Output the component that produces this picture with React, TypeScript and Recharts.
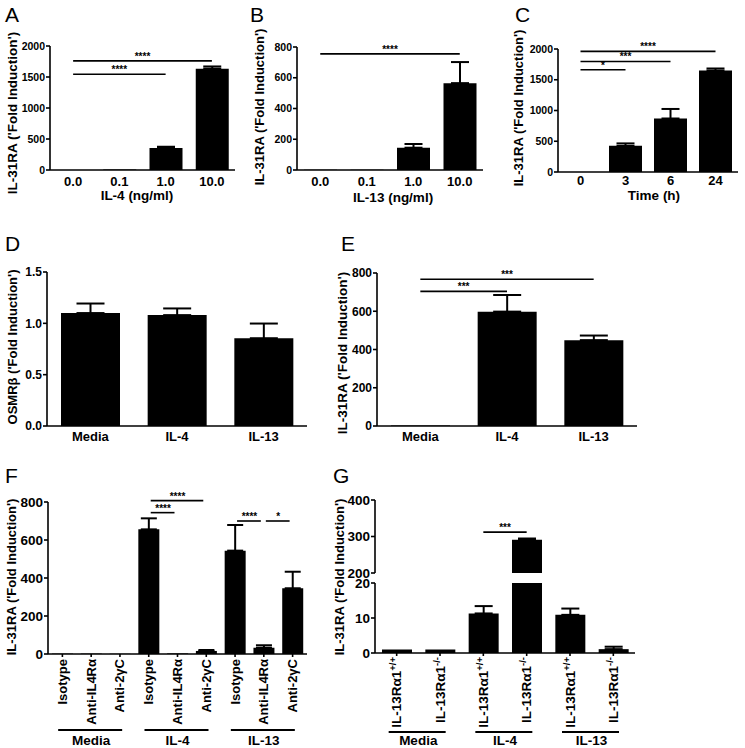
import React from 'react';
import { BarChart, Bar, XAxis, YAxis, ErrorBar, ReferenceLine } from 'recharts';

const FONT = '"Liberation Sans", Arial, Helvetica, sans-serif';

// A - IL-4 dose
const doseTicks = ['0.0', '0.1', '1.0', '10.0'];
const il4DoseFold = [1, 8, 355, 1635];
const il4DoseSem = [0, 0, 20, 35];
// B - IL-13 dose
const il13DoseFold = [1, 2, 145, 565];
const il13DoseSem = [0, 0, 24, 137];
// C - time course
const hourTicks = ['0', '3', '6', '24'];
const timeFold = [2, 425, 870, 1650];
const timeSem = [0, 40, 155, 33];
// D / E
const treatments = ['Media', 'IL-4', 'IL-13'];
const osmrFold = [1.1, 1.08, 0.855];
const osmrSem = [0.093, 0.065, 0.143];
const il31Fold = [2, 598, 449];
const il31Sem = [0, 87, 24];
// F - blocking antibodies
const antibodies = ['Isotype', 'Anti-IL4Rα', 'Anti-2γC'];
const abFold = [2, 2, 1, 656, 3, 16, 544, 33, 346];
const abSem = [0, 0, 0, 58, 0, 5, 135, 13, 87];
// G - IL-13Ra1 knockout
const genotypes = ['+/+', '-/-'];
const koFold = [1, 1, 11.3, 291, 10.9, 1.1];
const koSem = [0, 0, 2.1, 3.5, 1.8, 0.7];

type Sig = [string, string, number, string];
const sigA: Sig[] = [['0.0', '1.0', 1545, '****'], ['0.0', '10.0', 1760, '****']];
const sigB: Sig[] = [['0.0', '10.0', 755, '****']];
const sigC: Sig[] = [['0', '3', 1662, '*'], ['0', '6', 1797, '***'], ['0', '24', 1961, '****']];
const sigE: Sig[] = [['Media', 'IL-4', 704, '***'], ['Media', 'IL-13', 767, '***']];
const sigF: Sig[] = [
  ['IL-4|Isotype', 'IL-4|Anti-IL4Rα', 744, '****'],
  ['IL-4|Isotype', 'IL-4|Anti-2γC', 807, '****'],
  ['IL-13|Isotype', 'IL-13|Anti-IL4Rα', 700, '****'],
  ['IL-13|Anti-IL4Rα', 'IL-13|Anti-2γC', 700, '*'],
];
const sigG: Sig[] = [['IL-4|+/+', 'IL-4|-/-', 312, '***']];

const rows = (names: string[], fold: (number | null)[], sem: number[]) =>
  names.map((name, i) => ({ name, value: fold[i], err: sem[i] ? [0, sem[i]] : null }));

const abNames = treatments.flatMap((t) => antibodies.map((a) => `${t}|${a}`));
const koNames = treatments.flatMap((t) => genotypes.map((g) => `${t}|${g}`));

const axisStroke = { stroke: '#000', strokeWidth: 1.6 };

const InsetLine = (props: any) => (
  <line x1={props.x1 + 2} x2={props.x2 - 3} y1={props.y1} y2={props.y2} stroke="#000" strokeWidth={1.6} />
);

const sigLines = (sig: Sig[], inset = false) =>
  sig.map(([from, to, y, stars]) => (
    <ReferenceLine
      key={`${from}-${to}-${y}`}
      segment={[{ x: from, y }, { x: to, y }]}
      stroke="#000"
      strokeWidth={1.6}
      ifOverflow="visible"
      shape={inset ? InsetLine : undefined}
      label={{ value: stars, position: 'top', offset: 1, fontSize: 10, fontWeight: 'bold', fill: '#000', fontFamily: FONT }}
    />
  ));

const yTitle = (x: number, y: number, text: string, size = 13) => (
  <text
    x={x}
    y={y}
    transform={`rotate(-90 ${x} ${y})`}
    textAnchor="middle"
    fontSize={size}
    fontWeight="bold"
    fontFamily={FONT}
    fill="#000"
  >
    {text}
  </text>
);

const xTitle = (x: number, y: number, text: string) => (
  <text x={x} y={y} textAnchor="middle" fontSize={13.5} fontWeight="bold" fontFamily={FONT} fill="#000">
    {text}
  </text>
);

const letter = (x: number, y: number, text: string) => (
  <text x={x} y={y} fontSize={21} fontFamily={FONT} fill="#000">
    {text}
  </text>
);

interface PanelProps {
  left: number;
  top: number;
  width: number;
  height: number;
  mt: number;
  mr: number;
  yWidth: number;
  xHeight: number;
  xTickMargin: number;
  yFont: number;
  data: any[];
  domain: [number, number];
  ticks: number[];
  barSize: number;
  cap: number;
  sig: Sig[];
  fmt?: (v: number) => string;
  children?: React.ReactNode;
}

function Panel(p: PanelProps) {
  return (
    <div style={{ position: 'absolute', left: p.left, top: p.top }}>
      <BarChart
        width={p.width}
        height={p.height}
        data={p.data}
        margin={{ top: p.mt, right: p.mr, bottom: 0, left: 0 }}
      >
        <XAxis
          dataKey="name"
          interval={0}
          height={p.xHeight}
          tickLine={false}
          tickSize={0}
          tickMargin={p.xTickMargin}
          axisLine={axisStroke}
          tick={{ fontSize: 13, fontWeight: 'bold', fill: '#000', fontFamily: FONT }}
        />
        <YAxis
          type="number"
          domain={p.domain}
          ticks={p.ticks}
          interval={0}
          width={p.yWidth}
          axisLine={axisStroke}
          tickLine={axisStroke}
          tickSize={4}
          tickMargin={1}
          tickFormatter={p.fmt}
          tick={{ fontSize: p.yFont, fontWeight: 'bold', fill: '#000', fontFamily: FONT }}
        />
        <Bar dataKey="value" fill="#000" barSize={p.barSize} isAnimationActive={false}>
          <ErrorBar dataKey="err" direction="y" width={p.cap} stroke="#000" strokeWidth={2} />
        </Bar>
        {sigLines(p.sig)}
        {p.children}
      </BarChart>
    </div>
  );
}

const AbTick = ({ x, y, payload, index }: any) => {
  const [group, ab] = String(payload.value).split('|');
  return (
    <g>
      <text
        x={x}
        y={y}
        dy="0.35em"
        transform={`rotate(-90 ${x} ${y})`}
        textAnchor="end"
        fontSize={13}
        fontWeight="bold"
        fontFamily={FONT}
        fill="#000"
      >
        {ab}
      </text>
      {index % 3 === 1 && (
        <g>
          <line x1={x - 33} x2={x + 31} y1={y + 71} y2={y + 71} stroke="#000" strokeWidth={2} />
          <text x={x} y={y + 86} textAnchor="middle" fontSize={13.5} fontWeight="bold" fontFamily={FONT} fill="#000">
            {group}
          </text>
        </g>
      )}
    </g>
  );
};

const KoTick = ({ x, y, payload, index }: any) => {
  const [group, geno] = String(payload.value).split('|');
  return (
    <g>
      <text
        x={x}
        y={y}
        dy="0.35em"
        transform={`rotate(-90 ${x} ${y})`}
        textAnchor="end"
        fontSize={13.5}
        fontWeight="bold"
        fontFamily={FONT}
        fill="#000"
      >
        <tspan>IL-13Rα1</tspan>
        <tspan dy={-5} fontSize={9.5}>{geno}</tspan>
      </text>
      {index % 2 === 0 && (
        <g>
          <line x1={x - 8} x2={x + 49} y1={y + 75} y2={y + 75} stroke="#000" strokeWidth={2} />
          <text x={x + 21.6} y={y + 88} textAnchor="middle" fontSize={13.5} fontWeight="bold" fontFamily={FONT} fill="#000">
            {group}
          </text>
        </g>
      )}
    </g>
  );
};

export default function App() {
  const abData = rows(abNames, abFold, abSem);
  const koLower = koNames.map((name, i) => ({
    name,
    value: koFold[i],
    err: koFold[i] <= 20 && koSem[i] ? [0, koSem[i]] : null,
  }));
  const koUpper = koNames.map((name, i) => ({
    name,
    value: koFold[i] > 200 ? koFold[i] : null,
    err: koFold[i] > 200 && koSem[i] ? [0, koSem[i]] : null,
  }));

  return (
    <div
      style={{
        position: 'absolute',
        left: 0,
        top: 0,
        width: 745,
        height: 748,
        background: '#fff',
        fontFamily: FONT,
      }}
    >
      {/* A */}
      <Panel
        left={0} top={0} width={245} height={210} mt={46} mr={10} yWidth={50} xHeight={40} xTickMargin={7}
        yFont={10.5} data={rows(doseTicks, il4DoseFold, il4DoseSem)} domain={[0, 2000]}
        ticks={[0, 500, 1000, 1500, 2000]} barSize={33} cap={9} sig={sigA}
      >
        {letter(5, 22, 'A')}
        {yTitle(17, 113, "IL-31RA ('Fold Induction')", 13.5)}
        {xTitle(137, 200, 'IL-4 (ng/ml)')}
      </Panel>

      {/* B */}
      <Panel
        left={245} top={0} width={245} height={210} mt={47} mr={7} yWidth={52} xHeight={40} xTickMargin={7}
        yFont={10.5} data={rows(doseTicks, il13DoseFold, il13DoseSem)} domain={[0, 800]}
        ticks={[0, 200, 400, 600, 800]} barSize={33} cap={9} sig={sigB}
      >
        {letter(5, 22, 'B')}
        {yTitle(19, 107, "IL-31RA ('Fold Induction')")}
        {xTitle(148, 202, 'IL-13 (ng/ml)')}
      </Panel>

      {/* C */}
      <Panel
        left={490} top={0} width={255} height={210} mt={49} mr={7} yWidth={68} xHeight={38} xTickMargin={4}
        yFont={10.5} data={rows(hourTicks, timeFold, timeSem)} domain={[0, 2000]}
        ticks={[0, 500, 1000, 1500, 2000]} barSize={33} cap={9} sig={sigC}
      >
        {letter(25, 22, 'C')}
        {yTitle(33, 108, "IL-31RA ('Fold Induction')")}
        {xTitle(164, 200, 'Time (h)')}
      </Panel>

      {/* D */}
      <Panel
        left={0} top={230} width={330} height={230} mt={42} mr={23} yWidth={47} xHeight={34} xTickMargin={6}
        yFont={12} data={rows(treatments, osmrFold, osmrSem)} domain={[0, 1.5]}
        ticks={[0, 0.5, 1, 1.5]} barSize={59} cap={14} sig={[]} fmt={(v) => v.toFixed(1)}
      >
        {letter(5, 21, 'D')}
        {yTitle(17, 117, "OSMRβ ('Fold Induction')")}
      </Panel>

      {/* E */}
      <Panel
        left={330} top={230} width={415} height={230} mt={43} mr={108} yWidth={47} xHeight={34} xTickMargin={6}
        yFont={12} data={rows(treatments, il31Fold, il31Sem)} domain={[0, 800]}
        ticks={[0, 200, 400, 600, 800]} barSize={59} cap={14} sig={sigE}
      >
        {letter(11, 21, 'E')}
        {yTitle(17, 123, "IL-31RA ('Fold Induction')", 13.5)}
      </Panel>

      {/* F */}
      <div style={{ position: 'absolute', left: 0, top: 455 }}>
        <BarChart width={330} height={293} data={abData} margin={{ top: 47, right: 23, bottom: 0, left: 0 }}>
          <XAxis
            dataKey="name"
            interval={0}
            height={94}
            tickSize={3}
            tickMargin={2}
            axisLine={axisStroke}
            tickLine={axisStroke}
            tick={<AbTick />}
          />
          <YAxis
            type="number"
            domain={[0, 800]}
            ticks={[0, 200, 400, 600, 800]}
            interval={0}
            width={48}
            axisLine={axisStroke}
            tickLine={axisStroke}
            tickSize={4}
            tickMargin={1}
            tick={{ fontSize: 13.5, fontWeight: 'bold', fill: '#000', fontFamily: FONT }}
          />
          <Bar dataKey="value" fill="#000" barSize={21} isAnimationActive={false}>
            <ErrorBar dataKey="err" direction="y" width={8} stroke="#000" strokeWidth={2} />
          </Bar>
          {sigLines(sigF, true)}
          {letter(5, 28, 'F')}
          {yTitle(16, 122, "IL-31RA ('Fold Induction')")}
        </BarChart>
      </div>

      {/* G - lower segment of the broken axis */}
      <div style={{ position: 'absolute', left: 330, top: 455 }}>
        <BarChart width={415} height={293} data={koLower} margin={{ top: 128, right: 110, bottom: 0, left: 0 }}>
          <XAxis
            dataKey="name"
            interval={0}
            height={95}
            tickSize={3}
            tickMargin={1}
            axisLine={axisStroke}
            tickLine={axisStroke}
            tick={<KoTick />}
          />
          <YAxis
            type="number"
            domain={[0, 20]}
            ticks={[0, 10, 20]}
            interval={0}
            width={45}
            allowDataOverflow
            axisLine={axisStroke}
            tickLine={axisStroke}
            tickSize={4}
            tickMargin={1}
            tick={{ fontSize: 13.5, fontWeight: 'bold', fill: '#000', fontFamily: FONT }}
          />
          <Bar dataKey="value" fill="#000" barSize={30} isAnimationActive={false}>
            <ErrorBar dataKey="err" direction="y" width={9} stroke="#000" strokeWidth={2} />
          </Bar>
          {letter(3, 28, 'G')}
          {yTitle(14, 122, "IL-31RA ('Fold Induction')")}
        </BarChart>
      </div>

      {/* G - upper segment of the broken axis */}
      <div style={{ position: 'absolute', left: 330, top: 455 }}>
        <BarChart width={415} height={128} data={koUpper} margin={{ top: 45, right: 110, bottom: 10, left: 0 }}>
          <XAxis dataKey="name" hide />
          <YAxis
            type="number"
            domain={[200, 400]}
            ticks={[200, 300, 400]}
            interval={0}
            width={45}
            allowDataOverflow
            axisLine={axisStroke}
            tickLine={axisStroke}
            tickSize={4}
            tickMargin={1}
            tick={{ fontSize: 13.5, fontWeight: 'bold', fill: '#000', fontFamily: FONT }}
          />
          <Bar dataKey="value" fill="#000" barSize={30} isAnimationActive={false}>
            <ErrorBar dataKey="err" direction="y" width={9} stroke="#000" strokeWidth={2} />
          </Bar>
          {sigLines(sigG)}
        </BarChart>
      </div>
    </div>
  );
}
